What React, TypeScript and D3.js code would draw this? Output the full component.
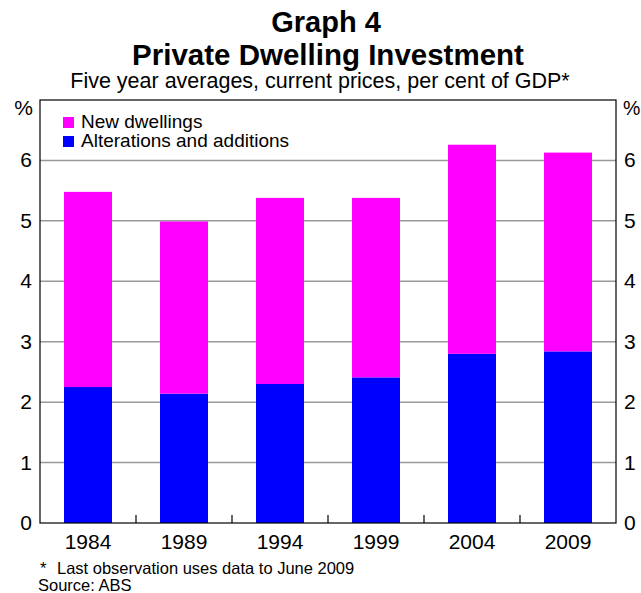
import * as d3 from "d3";
import { useEffect, useRef } from "react";

const years = ["1984", "1989", "1994", "1999", "2004", "2009"];
const alterations = [2.25, 2.14, 2.3, 2.41, 2.8, 2.84];
const newDwellings = [3.23, 2.85, 3.08, 2.97, 3.46, 3.29];
const yTicks = [0, 1, 2, 3, 4, 5, 6];

const width = 641;
const height = 593;
const margin = { top: 100, right: 25, bottom: 70, left: 40 };
const font = "'Liberation Sans', Arial, sans-serif";

export default function App() {
  const ref = useRef(null);

  useEffect(() => {
    draw();
  });

  function draw() {
    const svg = d3.select(ref.current);
    svg.selectAll("*").remove();

    const innerW = width - margin.left - margin.right;
    const innerH = height - margin.top - margin.bottom;

    // titles
    const title = svg.append("g").attr("font-family", font).attr("text-anchor", "middle");
    title.append("text").attr("x", 326).attr("y", 32).attr("font-size", 29).attr("font-weight", 700).text("Graph 4");
    title
      .append("text")
      .attr("x", 328)
      .attr("y", 65)
      .attr("font-size", 29.5)
      .attr("font-weight", 700)
      .text("Private Dwelling Investment");
    title
      .append("text")
      .attr("x", 320)
      .attr("y", 88)
      .attr("font-size", 21.5)
      .text("Five year averages, current prices, per cent of GDP*");

    const plot = svg.append("g").attr("transform", "translate(" + margin.left + "," + margin.top + ")");

    const x = d3.scaleBand().domain(years).range([0, innerW]).paddingInner(0.5).paddingOuter(0.25);
    const y = d3.scaleLinear().domain([0, 7]).range([innerH, 0]);

    // gridlines
    plot
      .append("g")
      .selectAll("line")
      .data(yTicks.filter((d) => d > 0))
      .enter()
      .append("line")
      .attr("x1", 0)
      .attr("x2", innerW)
      .attr("y1", (d) => y(d))
      .attr("y2", (d) => y(d))
      .attr("stroke", "#999")
      .attr("stroke-width", 1.5);

    // stacked bars
    const rows = years.map((yr, i) => ({ year: yr, alt: alterations[i], nd: newDwellings[i] }));
    const stack = d3.stack<any>().keys(["alt", "nd"])(rows);
    const colors = ["#0000ff", "#ff00ff"];
    stack.forEach((layer, li) => {
      plot
        .append("g")
        .selectAll("rect")
        .data(layer)
        .enter()
        .append("rect")
        .attr("x", (d: any) => x(d.data.year) as number)
        .attr("width", x.bandwidth())
        .attr("y", (d) => y(d[1]))
        .attr("height", (d) => y(d[0]) - y(d[1]))
        .attr("fill", colors[li]);
    });

    // frame
    plot
      .append("rect")
      .attr("x", 0)
      .attr("y", 0)
      .attr("width", innerW)
      .attr("height", innerH)
      .attr("fill", "none")
      .attr("stroke", "#000")
      .attr("stroke-width", 1.2);

    // category separator ticks
    const step = x.step();
    plot
      .append("g")
      .selectAll("line")
      .data(d3.range(1, years.length))
      .enter()
      .append("line")
      .attr("x1", (d) => d * step)
      .attr("x2", (d) => d * step)
      .attr("y1", innerH)
      .attr("y2", innerH - 8)
      .attr("stroke", "#000")
      .attr("stroke-width", 1.2);

    // y labels both sides
    const lab = plot.append("g").attr("font-family", font).attr("font-size", 21);
    lab
      .selectAll(".l")
      .data(yTicks)
      .enter()
      .append("text")
      .attr("x", -8)
      .attr("y", (d) => y(d) + 7)
      .attr("text-anchor", "end")
      .text((d) => d);
    lab
      .selectAll(".r")
      .data(yTicks)
      .enter()
      .append("text")
      .attr("x", innerW + 8)
      .attr("y", (d) => y(d) + 7)
      .text((d) => d);
    lab.append("text").attr("x", -7).attr("y", 15).attr("text-anchor", "end").text("%");
    lab.append("text").attr("x", innerW + 7).attr("y", 15).attr("font-size", 19.5).text("%");

    // x labels
    lab
      .selectAll(".x")
      .data(years)
      .enter()
      .append("text")
      .attr("x", (d) => (x(d) as number) + x.bandwidth() / 2)
      .attr("y", innerH + 26)
      .attr("text-anchor", "middle")
      .text((d) => d);

    // legend
    const legend = plot.append("g").attr("font-family", font).attr("font-size", 19);
    const items = [
      { label: "New dwellings", color: "#ff00ff" },
      { label: "Alterations and additions", color: "#0000ff" },
    ];
    items.forEach((it, i) => {
      legend
        .append("rect")
        .attr("x", 23)
        .attr("y", 17 + i * 19)
        .attr("width", 11)
        .attr("height", 11)
        .attr("fill", it.color);
      legend
        .append("text")
        .attr("x", 41)
        .attr("y", 28 + i * 19)
        .text(it.label);
    });

    // footnotes
    const foot = svg.append("g").attr("font-family", font).attr("font-size", 16.5);
    foot.append("text").attr("x", 40).attr("y", 574).text("*");
    foot.append("text").attr("x", 57).attr("y", 574).text("Last observation uses data to June 2009");
    foot.append("text").attr("x", 38).attr("y", 591).text("Source: ABS");
  }

  return (
    <svg
      width={width}
      height={height}
      ref={ref}
      style={{ position: "absolute", left: 0, top: 0, background: "#fff" }}
    ></svg>
  );
}
